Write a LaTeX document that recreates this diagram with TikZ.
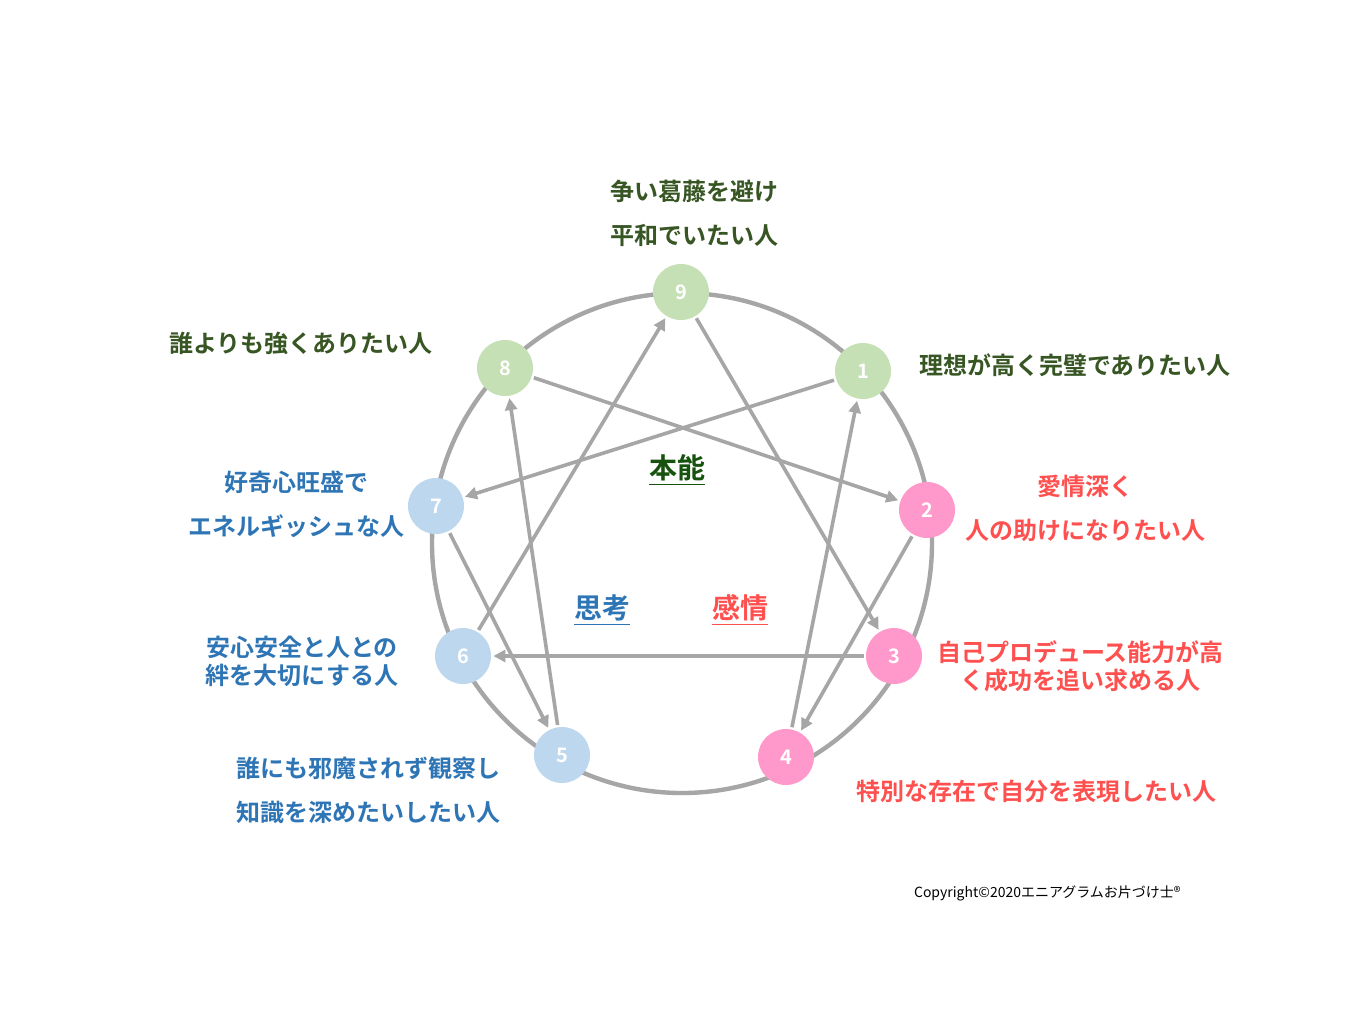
\documentclass[tikz,border=0pt]{standalone}
\usepackage{fontspec}
\setmainfont{Noto Sans CJK JP}
\newfontfamily\jpb{Noto Sans CJK JP Bold}
\usetikzlibrary{arrows.meta}
\definecolor{gnode}{HTML}{C5E0B4}
\definecolor{pnode}{HTML}{FF99CC}
\definecolor{bnode}{HTML}{BDD7EE}
\definecolor{gtxt}{HTML}{375623}
\definecolor{ptxt}{HTML}{FF5050}
\definecolor{btxt}{HTML}{2E75B6}
\definecolor{lgray}{HTML}{A6A6A6}
\tikzset{
 num/.style={circle,minimum size=28pt,inner sep=0pt,text=white,font=\jpb\fontsize{10}{10}\selectfont},
 gn/.style={num,fill=gnode},pn/.style={num,fill=pnode},bn/.style={num,fill=bnode},
 lab/.style={font=\jpb\fontsize{12}{22}\selectfont,align=center},
 arr/.style={draw=lgray,line width=1.8pt,-{Triangle[length=6pt,width=6pt]},shorten <=1pt,shorten >=1pt}
}
\begin{document}
\begin{tikzpicture}[x=0.5pt,y=-0.5pt]
\useasboundingbox[fill=white] (0,0) rectangle (1365,1024);
\draw[lgray,line width=2.2pt] (682,543) circle (250);
\node[gn] (n9) at (681,292) {9};
\node[gn] (n1) at (863,371) {1};
\node[pn] (n2) at (927,510) {2};
\node[pn] (n3) at (894,656) {3};
\node[pn] (n4) at (786,757) {4};
\node[bn] (n5) at (562,755) {5};
\node[bn] (n6) at (463,656) {6};
\node[bn] (n7) at (436,506) {7};
\node[gn] (n8) at (505,368) {8};
\draw[arr] (n8) -- (n2);
\draw[arr] (n2) -- (n4);
\draw[arr] (n4) -- (n1);
\draw[arr] (n1) -- (n7);
\draw[arr] (n7) -- (n5);
\draw[arr] (n5) -- (n8);
\draw[arr] (n9) -- (n3);
\draw[arr] (n3) -- (n6);
\draw[arr] (n6) -- (n9);
\node[lab,text=gtxt] (t9) at (694,213) {争い葛藤を避け\\平和でいたい人};
\node[lab,text=gtxt,anchor=west] (t1) at (912,365) {理想が高く完璧でありたい人};
\node[lab,text=gtxt,anchor=east] (t8) at (440,343) {誰よりも強くありたい人};
\node[lab,text=ptxt] (t2) at (1085,508) {愛情深く\\人の助けになりたい人};
\node[lab,text=ptxt,anchor=west,align=center,font=\jpb\fontsize{12}{14}\selectfont] (t3) at (930,666) {自己プロデュース能力が高\\く成功を追い求める人};
\node[lab,text=ptxt] (t4) at (1036,791) {特別な存在で自分を表現したい人};
\node[lab,text=btxt] (t7) at (296,504) {好奇心旺盛で\\エネルギッシュな人};
\node[lab,text=btxt,font=\jpb\fontsize{12}{14}\selectfont] (t6) at (302,661) {安心安全と人との\\絆を大切にする人};
\node[lab,text=btxt] (t5) at (368,790) {誰にも邪魔されず観察し\\知識を深めたいしたい人};
\node[font=\jpb\fontsize{14}{14}\selectfont,text=gtxt!70!green!60!black] (c1) at (677,470) {\underline{本能}};
\node[font=\jpb\fontsize{14}{14}\selectfont,text=btxt] (c2) at (602,610) {\underline{思考}};
\node[font=\jpb\fontsize{14}{14}\selectfont,text=ptxt] (c3) at (740,610) {\underline{感情}};
\node[font=\fontsize{7}{7}\selectfont,anchor=west] (cp) at (907,893) {Copyright©2020エニアグラムお片づけ士®};
\end{tikzpicture}
\end{document}
